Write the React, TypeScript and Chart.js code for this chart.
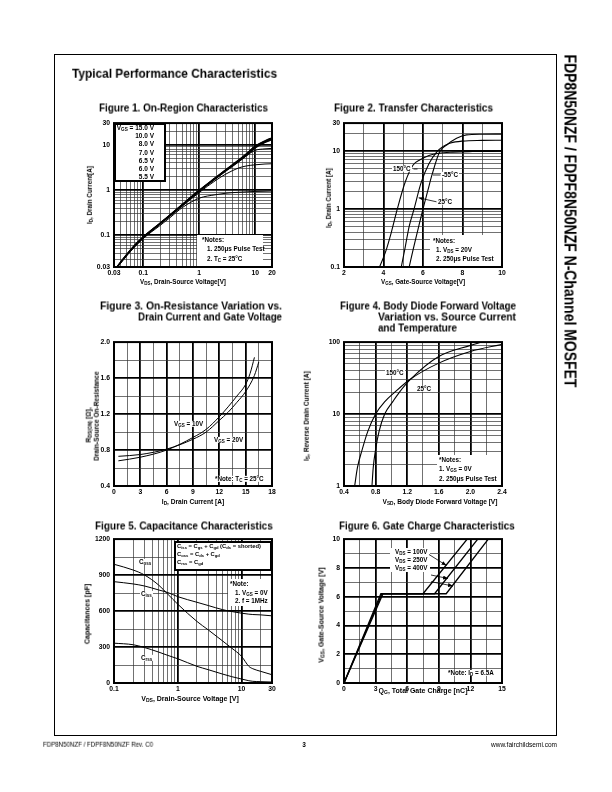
import React, { useEffect, useRef } from 'react';
import { Chart, registerables } from 'chart.js';
Chart.register(...registerables);

const FONT = '"Liberation Sans", Arial, Helvetica, sans-serif';

// ---------- tick helpers (grid positions only) ----------
const logTicks = (min: number, max: number): number[] => {
  const out: number[] = [];
  for (let e = Math.floor(Math.log10(min)); e <= Math.ceil(Math.log10(max)); e++) {
    for (let k = 1; k <= 9; k++) {
      const v = +(k * Math.pow(10, e)).toPrecision(6);
      if (v >= min * 0.999999 && v <= max * 1.000001) out.push(v);
    }
  }
  return out;
};
const stepTicks = (min: number, max: number, step: number): number[] => {
  const out: number[] = [];
  for (let i = 0; min + i * step <= max + 1e-9; i++) out.push(+(min + i * step).toFixed(6));
  return out;
};

// ---------- Figure 1: On-Region Characteristics ----------
const fig1Vds = [0.034, 0.05, 0.07, 0.1, 0.2, 0.3, 0.5, 1, 2, 3, 5, 7, 10, 15, 20];
const fig1Id150 = [0.02, 0.037, 0.06, 0.092, 0.185, 0.28, 0.48, 0.98, 1.9, 2.8, 4.5, 6.3, 9.3, 12.2, 14.2];
const fig1Id100 = [0.02, 0.037, 0.06, 0.092, 0.185, 0.28, 0.48, 0.98, 1.9, 2.8, 4.45, 6.2, 9.1, 11.9, 13.9];
const fig1Id80 = [0.02, 0.036, 0.059, 0.09, 0.182, 0.275, 0.47, 0.96, 1.87, 2.75, 4.35, 6.0, 8.8, 11.5, 13.4];
const fig1Id70 = [0.02, 0.036, 0.058, 0.089, 0.18, 0.27, 0.46, 0.95, 1.84, 2.7, 4.25, 5.8, 8.5, 11.2, 13.0];
const fig1Id65 = [0.02, 0.036, 0.058, 0.089, 0.18, 0.27, 0.46, 0.93, 1.78, 2.6, 4.1, 5.7, 7.5, 8.1, 8.3];
const fig1Id60 = [0.02, 0.036, 0.058, 0.088, 0.178, 0.265, 0.44, 0.88, 1.65, 2.25, 3.05, 3.4, 3.6, 3.75, 3.8];
const fig1Id55 = [0.02, 0.035, 0.055, 0.085, 0.165, 0.245, 0.41, 0.66, 0.79, 0.85, 0.89, 0.91, 0.93, 0.94, 0.95];
const fig1XLabels: [number, string][] = [[0.03, '0.03'], [0.1, '0.1'], [1, '1'], [10, '10'], [20, '20']];
const fig1YLabels: [number, string][] = [[0.02, '0.03'], [0.1, '0.1'], [1, '1'], [10, '10'], [30, '30']];
const fig1Legend = ['10.0 V', '8.0 V', '7.0 V', '6.5 V', '6.0 V', '5.5 V'];

// ---------- Figure 2: Transfer Characteristics ----------
const fig2Vgs150 = [3.8, 4.1, 4.4, 4.7, 5.1, 5.5, 5.85, 6.3, 6.8, 7.5, 8.5, 10];
const fig2Id150 = [0.1, 0.18, 0.4, 1.0, 2.9, 5.7, 7.0, 8.3, 9.1, 9.5, 9.7, 9.8];
const fig2Vgs25 = [4.9, 5.1, 5.3, 5.55, 5.9, 6.3, 6.7, 7.0, 7.4, 8.0, 9.0, 10];
const fig2Id25 = [0.1, 0.22, 0.5, 1.0, 2.8, 6.0, 9.6, 11.8, 13.6, 14.7, 15.1, 15.2];
const fig2VgsM55 = [5.3, 5.5, 5.75, 6.0, 6.25, 6.45, 6.85, 7.2, 7.7, 8.2, 9.0, 10];
const fig2IdM55 = [0.1, 0.2, 0.45, 1.0, 2.1, 3.8, 9.7, 12.6, 16.4, 18.8, 19.3, 19.4];
const fig2XLabels: [number, string][] = [[2, '2'], [4, '4'], [6, '6'], [8, '8'], [10, '10']];
const fig2YLabels: [number, string][] = [[0.1, '0.1'], [1, '1'], [10, '10'], [30, '30']];

// ---------- Figure 3: On-Resistance ----------
const fig3Id10 = [0.5, 3, 6, 9, 10.5, 12, 13, 14, 15, 15.5, 16];
const fig3R10 = [0.68, 0.72, 0.8, 0.94, 1.03, 1.17, 1.28, 1.4, 1.53, 1.65, 1.83];
const fig3Id20 = [0.5, 3, 6, 9, 10.5, 12, 13, 14, 15, 16, 16.5];
const fig3R20 = [0.73, 0.75, 0.81, 0.92, 1.0, 1.13, 1.22, 1.33, 1.45, 1.63, 1.78];
const fig3XLabels: [number, string][] = [[0, '0'], [3, '3'], [6, '6'], [9, '9'], [12, '12'], [15, '15'], [18, '18']];
const fig3YLabels: [number, string][] = [[0.4, '0.4'], [0.8, '0.8'], [1.2, '1.2'], [1.6, '1.6'], [2.0, '2.0']];

// ---------- Figure 4: Body Diode ----------
const fig4Vsd150 = [0.535, 0.57, 0.63, 0.7, 0.8, 0.92, 1.04, 1.23, 1.6, 2.0, 2.4];
const fig4Is150 = [1, 1.8, 3.2, 5.7, 10, 15, 20, 30, 51, 74, 93];
const fig4Vsd25 = [0.754, 0.77, 0.8, 0.843, 0.915, 1.02, 1.1, 1.25, 1.6, 2.0, 2.14];
const fig4Is25 = [1, 1.8, 3.2, 5.7, 10, 15, 20, 31, 63, 90, 100];
const fig4XLabels: [number, string][] = [[0.4, '0.4'], [0.8, '0.8'], [1.2, '1.2'], [1.6, '1.6'], [2.0, '2.0'], [2.4, '2.4']];
const fig4YLabels: [number, string][] = [[1, '1'], [10, '10'], [100, '100']];

// ---------- Figure 5: Capacitance ----------
const fig5Vds = [0.1, 0.2, 0.3, 0.5, 0.7, 1, 2, 3, 5, 7, 10, 13, 15, 20, 30];
const fig5Ciss = [845, 826, 809, 776, 754, 720, 673, 646, 612, 596, 582, 574, 571, 568, 560];
const fig5Coss = [990, 942, 901, 817, 740, 657, 513, 443, 352, 291, 222, 139, 119, 97, 69];
const fig5Crss = [332, 319, 296, 258, 230, 202, 139, 111, 75, 53, 33, 19, 14, 11, 8];
const fig5XLabels: [number, string][] = [[0.1, '0.1'], [1, '1'], [10, '10'], [30, '30']];
const fig5YLabels: [number, string][] = [[0, '0'], [300, '300'], [600, '600'], [900, '900'], [1200, '1200']];

// ---------- Figure 6: Gate Charge ----------
const fig6Q100 = [0, 3.5, 7.5, 11.7];
const fig6V100 = [0, 6.2, 6.2, 10];
const fig6Q250 = [0, 3.6, 8.6, 12.7];
const fig6V250 = [0, 6.2, 6.2, 10];
const fig6Q400 = [0, 3.7, 9.7, 13.7];
const fig6V400 = [0, 6.2, 6.2, 10];
const fig6XLabels: [number, string][] = [[0, '0'], [3, '3'], [6, '6'], [9, '9'], [12, '12'], [15, '15']];
const fig6YLabels: [number, string][] = [[0, '0'], [2, '2'], [4, '4'], [6, '6'], [8, '8'], [10, '10']];

// ---------- chart machinery ----------
type Series = { xs: number[]; ys: number[]; width: number; smooth?: boolean };
type AxisSpec = { type: 'linear' | 'logarithmic'; min: number; max: number; ticks: number[]; labels: [number, string][]; thick: number[] };
type ChartSpec = { left: number; top: number; w: number; h: number; x: AxisSpec; y: AxisSpec; series: Series[] };

const AW = 34, AH = 14, PT = 8, PR = 14;
const near = (a: number, b: number) => Math.abs(a - b) <= 1e-9 + Math.abs(b) * 1e-6;

const framePlugin = {
  id: 'frame',
  afterDatasetsDraw(chart: any) {
    const { ctx, chartArea: a } = chart;
    ctx.save();
    ctx.strokeStyle = '#000';
    ctx.lineWidth = 2;
    ctx.strokeRect(a.left, a.top, a.right - a.left, a.bottom - a.top);
    ctx.restore();
  },
};

function axisOptions(a: AxisSpec, horizontal: boolean) {
  const isThick = (v: number) => a.thick.some((t) => near(v, t));
  return {
    type: a.type,
    min: a.min,
    max: a.max,
    afterBuildTicks: (s: any) => {
      s.ticks = a.ticks.map((v) => ({ value: v }));
    },
    afterFit: (s: any) => {
      if (horizontal) s.height = AH;
      else s.width = AW;
    },
    ticks: {
      autoSkip: false,
      maxRotation: 0,
      minRotation: 0,
      padding: horizontal ? 2 : 4,
      color: '#000',
      font: { family: FONT, size: 6.8, weight: 'bold' },
      callback: (v: number) => {
        const f = a.labels.find((l) => near(v, l[0]));
        return f ? f[1] : '';
      },
    },
    grid: {
      drawTicks: false,
      color: (ctx: any) => (ctx.tick && isThick(ctx.tick.value) ? '#000' : '#333'),
      lineWidth: (ctx: any) => (ctx.tick && isThick(ctx.tick.value) ? 1.8 : 0.7),
    },
    border: { display: false },
  };
}

function PlotChart({ spec }: { spec: ChartSpec }) {
  const ref = useRef<HTMLCanvasElement>(null);
  useEffect(() => {
    const c = ref.current;
    if (!c) return;
    const chart = new Chart(c, {
      type: 'scatter',
      data: {
        datasets: spec.series.map((s) => ({
          data: s.xs.map((x, i) => ({ x, y: s.ys[i] })),
          showLine: true,
          borderColor: '#000',
          backgroundColor: 'transparent',
          borderWidth: s.width,
          pointRadius: 0,
          pointHoverRadius: 0,
          cubicInterpolationMode: s.smooth === false ? 'default' : 'monotone',
          tension: 0,
          fill: false,
        })),
      },
      options: {
        responsive: false,
        animation: false,
        events: [],
        layout: { padding: { top: PT, right: PR, left: 0, bottom: 0 } },
        plugins: { legend: { display: false }, tooltip: { enabled: false } },
        scales: { x: axisOptions(spec.x, true), y: axisOptions(spec.y, false) },
      } as any,
      plugins: [framePlugin],
    } as any);
    return () => chart.destroy();
  }, [spec]);
  return (
    <canvas
      ref={ref}
      width={AW + spec.w + PR}
      height={PT + spec.h + AH}
      style={{ position: 'absolute', left: spec.left - AW, top: spec.top - PT, display: 'block' }}
    />
  );
}

const fig1Spec: ChartSpec = {
  left: 114, top: 123, w: 158, h: 144,
  x: { type: 'logarithmic', min: 0.03, max: 20, ticks: logTicks(0.03, 20), labels: fig1XLabels, thick: [0.1, 1, 10] },
  y: { type: 'logarithmic', min: 0.02, max: 30, ticks: logTicks(0.02, 30), labels: fig1YLabels, thick: [0.1, 1, 10] },
  series: [
    { xs: fig1Vds, ys: fig1Id150, width: 1.4 },
    { xs: fig1Vds, ys: fig1Id100, width: 1.4 },
    { xs: fig1Vds, ys: fig1Id80, width: 1.4 },
    { xs: fig1Vds, ys: fig1Id70, width: 1.4 },
    { xs: fig1Vds, ys: fig1Id65, width: 1 },
    { xs: fig1Vds, ys: fig1Id60, width: 1 },
    { xs: fig1Vds, ys: fig1Id55, width: 1 },
  ],
};
const fig2Spec: ChartSpec = {
  left: 344, top: 123, w: 158, h: 144,
  x: { type: 'linear', min: 2, max: 10, ticks: stepTicks(2, 10, 1), labels: fig2XLabels, thick: [4, 6, 8] },
  y: { type: 'logarithmic', min: 0.1, max: 30, ticks: logTicks(0.1, 30), labels: fig2YLabels, thick: [1, 10] },
  series: [
    { xs: fig2Vgs150, ys: fig2Id150, width: 1.1 },
    { xs: fig2Vgs25, ys: fig2Id25, width: 1.1 },
    { xs: fig2VgsM55, ys: fig2IdM55, width: 1.1 },
  ],
};
const fig3Spec: ChartSpec = {
  left: 114, top: 342, w: 158, h: 144,
  x: { type: 'linear', min: 0, max: 18, ticks: stepTicks(0, 18, 1.5), labels: fig3XLabels, thick: [3, 6, 9, 12, 15] },
  y: { type: 'linear', min: 0.4, max: 2.0, ticks: stepTicks(0.4, 2.0, 0.2), labels: fig3YLabels, thick: [0.8, 1.2, 1.6] },
  series: [
    { xs: fig3Id10, ys: fig3R10, width: 1 },
    { xs: fig3Id20, ys: fig3R20, width: 1 },
  ],
};
const fig4Spec: ChartSpec = {
  left: 344, top: 342, w: 158, h: 144,
  x: { type: 'linear', min: 0.4, max: 2.4, ticks: stepTicks(0.4, 2.4, 0.2), labels: fig4XLabels, thick: [0.8, 1.2, 1.6, 2.0] },
  y: { type: 'logarithmic', min: 1, max: 100, ticks: logTicks(1, 100), labels: fig4YLabels, thick: [10] },
  series: [
    { xs: fig4Vsd150, ys: fig4Is150, width: 1.1 },
    { xs: fig4Vsd25, ys: fig4Is25, width: 1.1 },
  ],
};
const fig5Spec: ChartSpec = {
  left: 114, top: 539, w: 158, h: 144,
  x: { type: 'logarithmic', min: 0.1, max: 30, ticks: logTicks(0.1, 30), labels: fig5XLabels, thick: [1, 10] },
  y: { type: 'linear', min: 0, max: 1200, ticks: stepTicks(0, 1200, 150), labels: fig5YLabels, thick: [300, 600, 900] },
  series: [
    { xs: fig5Vds, ys: fig5Ciss, width: 1 },
    { xs: fig5Vds, ys: fig5Coss, width: 1 },
    { xs: fig5Vds, ys: fig5Crss, width: 1 },
  ],
};
const fig6Spec: ChartSpec = {
  left: 344, top: 539, w: 158, h: 144,
  x: { type: 'linear', min: 0, max: 15, ticks: stepTicks(0, 15, 1.5), labels: fig6XLabels, thick: [3, 6, 9, 12] },
  y: { type: 'linear', min: 0, max: 10, ticks: stepTicks(0, 10, 1), labels: fig6YLabels, thick: [2, 4, 6, 8] },
  series: [
    { xs: fig6Q100, ys: fig6V100, width: 1.3, smooth: false },
    { xs: fig6Q250, ys: fig6V250, width: 1.3, smooth: false },
    { xs: fig6Q400, ys: fig6V400, width: 1.3, smooth: false },
  ],
};

// ---------- text helpers ----------
let mctx: CanvasRenderingContext2D | null = null;
function fitScale(text: string, font: string, w: number) {
  if (!mctx && typeof document !== 'undefined') mctx = document.createElement('canvas').getContext('2d');
  if (!mctx) return 1;
  mctx.font = font;
  const m = mctx.measureText(text).width;
  return m > 0 ? w / m : 1;
}

type LabelProps = {
  x: number; y: number; size?: number; bold?: boolean; align?: 'left' | 'center' | 'right';
  rot?: number; sx?: number; fit?: number; text?: string; bg?: boolean; children?: React.ReactNode;
};
function Label({ x, y, size = 6.5, bold = true, align = 'left', rot = 0, sx = 1, fit, text, bg, children }: LabelProps) {
  const font = `${bold ? 'bold ' : ''}${size}px ${FONT}`;
  const s = fit && text ? fitScale(text, font, fit) : sx;
  let transform: string;
  let origin: string;
  if (rot) {
    transform = `translate(-50%,-50%) rotate(${rot}deg) scaleX(${s})`;
    origin = '50% 50%';
  } else {
    const tx = align === 'left' ? '0' : align === 'right' ? '-100%' : '-50%';
    transform = `translate(${tx},-50%) scaleX(${s})`;
    origin = align === 'left' ? '0 50%' : align === 'right' ? '100% 50%' : '50% 50%';
  }
  return (
    <div
      style={{
        position: 'absolute', left: x, top: y, fontFamily: FONT, fontSize: size, fontWeight: bold ? 700 : 400,
        lineHeight: 1, whiteSpace: 'nowrap', color: '#000', transform, transformOrigin: origin,
        background: bg ? '#fff' : undefined, padding: bg ? '0 1px' : undefined, willChange: 'transform',
      }}
    >
      {children ?? text}
    </div>
  );
}
const Sub = ({ children }: { children: React.ReactNode }) => (
  <span style={{ fontSize: '0.72em', verticalAlign: '-0.28em', lineHeight: 0 }}>{children}</span>
);
const Box = ({ l, t, w, h, border }: { l: number; t: number; w: number; h: number; border?: boolean }) => (
  <div
    style={{
      position: 'absolute', left: l, top: t, width: w, height: h, background: '#fff',
      border: border ? '2px solid #000' : undefined, boxSizing: 'border-box',
    }}
  />
);

export default function App() {
  return (
    <div style={{ position: 'absolute', left: 0, top: 0, width: 612, height: 792, background: '#fff', overflow: 'hidden' }}>
      {/* page frame */}
      <div style={{ position: 'absolute', left: 54, top: 54, width: 503, height: 682, border: '1px solid #000', boxSizing: 'border-box' }} />

      <PlotChart spec={fig1Spec} />
      <PlotChart spec={fig2Spec} />
      <PlotChart spec={fig3Spec} />
      <PlotChart spec={fig4Spec} />
      <PlotChart spec={fig5Spec} />
      <PlotChart spec={fig6Spec} />

      {/* header / side title / footer */}
      <Label x={72.3} y={74} size={12.5} text="Typical Performance Characteristics" fit={205} />
      <Label x={569.5} y={220.5} size={17} rot={90} align="center" text="FDP8N50NZF / FDPF8N50NZF N-Channel MOSFET" fit={333} />
      <Label x={42.5} y={744.5} size={6.5} bold={false} text="FDP8N50NZF / FDPF8N50NZF Rev. C0" fit={110} />
      <Label x={304} y={745} size={6.5} align="center" text="3" />
      <Label x={557} y={744.5} size={6.5} bold={false} align="right" text="www.fairchildsemi.com" fit={66} />

      {/* Figure titles */}
      <Label x={99.3} y={108.3} size={11} text="Figure 1. On-Region Characteristics" fit={169} />
      <Label x={334.3} y={108.3} size={11} text="Figure 2. Transfer Characteristics" fit={159} />
      <Label x={100} y={305.5} size={11} text="Figure 3. On-Resistance Variation vs." fit={182} />
      <Label x={137.7} y={316.7} size={11} text="Drain Current and Gate Voltage" fit={144} />
      <Label x={340} y={305.5} size={11} text="Figure 4. Body Diode Forward Voltage" fit={176} />
      <Label x={377.7} y={316.7} size={11} text="Variation vs. Source Current" fit={138} />
      <Label x={377.7} y={327.5} size={11} text="and Temperature" fit={79} />
      <Label x={95} y={525.7} size={11} text="Figure 5. Capacitance Characteristics" fit={177.7} />
      <Label x={339.3} y={525.7} size={11} text="Figure 6. Gate Charge Characteristics" fit={175.7} />

      {/* Figure 1 annotations */}
      <Box l={114} t={123} w={52} h={59} border />
      <Label x={154.3} y={127.7} align="right">V<Sub>GS</Sub> = 15.0 V</Label>
      {fig1Legend.map((t, i) => (
        <Label key={t} x={154.3} y={136.2 + i * 8.2} align="right" text={t} />
      ))}
      <Box l={197} t={235} w={66} h={31} />
      <Label x={201.7} y={240.3} size={6.3} text="*Notes:" />
      <Label x={206.7} y={249.3} size={6.3} text="1. 250μs Pulse Test" />
      <Label x={206.7} y={258.5} size={6.3}>2. T<Sub>C</Sub> = 25°C</Label>
      <Label x={183.3} y={282} size={6.3} align="center">V<Sub>DS</Sub>, Drain-Source Voltage[V]</Label>
      <Label x={90} y={195} size={6.3} rot={-90} align="center">I<Sub>D</Sub>, Drain Current[A]</Label>

      {/* Figure 2 annotations */}
      <Label x={391.5} y={169} size={6.3} bg text="150°C" />
      <Label x={441} y={175} size={6.3} bg text="-55°C" />
      <Label x={437} y={202.3} size={6.3} bg text="25°C" />
      <Box l={430} t={235} w={71} h={31} />
      <Label x={432.7} y={241} size={6.3} text="*Notes:" />
      <Label x={436} y={250} size={6.3}>1. V<Sub>DS</Sub> = 20V</Label>
      <Label x={436} y={259.2} size={6.3} text="2. 250μs Pulse Test" />
      <Label x={423.3} y={282} size={6.3} align="center">V<Sub>GS</Sub>, Gate-Source Voltage[V]</Label>
      <Label x={329.3} y={198} size={6.3} rot={-90} align="center">I<Sub>D</Sub>, Drain Current [A]</Label>

      {/* Figure 3 annotations */}
      <Label x={172.7} y={424} size={6.3} bg>V<Sub>GS</Sub> = 10V</Label>
      <Label x={212.7} y={440} size={6.3} bg>V<Sub>GS</Sub> = 20V</Label>
      <Label x={214} y={479.3} size={6.3} bg>*Note: T<Sub>C</Sub> = 25°C</Label>
      <Label x={193.3} y={501.7} size={6.6} align="center">I<Sub>D</Sub>, Drain Current [A]</Label>
      <Label x={88.5} y={425} size={6.6} rot={-90} align="center">R<Sub>DS(ON)</Sub> [Ω],</Label>
      <Label x={96.5} y={416} size={6.6} rot={-90} align="center" text="Drain-Source On-Resistance" />

      {/* Figure 4 annotations */}
      <Label x={385} y={373.3} size={6.3} bg text="150°C" />
      <Label x={416} y={389} size={6.3} bg text="25°C" />
      <Box l={437} t={455} w={64} h={30} />
      <Label x={439.3} y={460} size={6.3} text="*Notes:" />
      <Label x={439.3} y={469.3} size={6.3}>1. V<Sub>GS</Sub> = 0V</Label>
      <Label x={439.3} y={479} size={6.3} text="2. 250μs Pulse Test" />
      <Label x={440} y={501.7} size={6.6} align="center">V<Sub>SD</Sub>, Body Diode Forward Voltage [V]</Label>
      <Label x={307} y={416} size={6.6} rot={-90} align="center">I<Sub>S</Sub>, Reverse Drain Current [A]</Label>

      {/* Figure 5 annotations */}
      <Box l={174.3} t={540.5} w={98} h={30} border />
      <Label x={176.7} y={546.7} size={5.8}>C<Sub>iss</Sub> = C<Sub>gs</Sub> + C<Sub>gd</Sub> (C<Sub>ds</Sub> = shorted)</Label>
      <Label x={176.7} y={555} size={5.8}>C<Sub>oss</Sub> = C<Sub>ds</Sub> + C<Sub>gd</Sub></Label>
      <Label x={176.7} y={563.3} size={5.8}>C<Sub>rss</Sub> = C<Sub>gd</Sub></Label>
      <Box l={228} t={579} w={43} h={27} />
      <Label x={230} y={584.3} size={6.3} text="*Note:" />
      <Label x={235} y={593.3} size={6.3}>1. V<Sub>GS</Sub> = 0V</Label>
      <Label x={235} y={600.9} size={6.3} text="2. f = 1MHz" />
      <Label x={138.3} y={561.7} size={6.3} bg>C<Sub>oss</Sub></Label>
      <Label x={140} y={594} size={6.3} bg>C<Sub>iss</Sub></Label>
      <Label x={140} y={658.3} size={6.3} bg>C<Sub>rss</Sub></Label>
      <Label x={190} y={698.3} size={7} align="center">V<Sub>DS</Sub>, Drain-Source Voltage [V]</Label>
      <Label x={86.7} y={614} size={7} rot={-90} align="center" text="Capacitances [pF]" />

      {/* Figure 6 annotations */}
      <Box l={390} t={548} w={40} h={24} />
      <Label x={395} y={552.3} size={6.3}>V<Sub>DS</Sub> = 100V</Label>
      <Label x={395} y={560.2} size={6.3}>V<Sub>DS</Sub> = 250V</Label>
      <Label x={395} y={568.3} size={6.3}>V<Sub>DS</Sub> = 400V</Label>
      <Label x={446.7} y={672.7} size={6.3} bg>*Note: I<Sub>D</Sub> = 6.5A</Label>
      <Label x={423} y={690} size={7} align="center">Q<Sub>G</Sub>, Total Gate Charge [nC]</Label>
      <Label x={320.7} y={615} size={7} rot={-90} align="center">V<Sub>GS</Sub>, Gate-Source Voltage [V]</Label>

      {/* leader lines and arrows */}
      <svg width={612} height={792} style={{ position: 'absolute', left: 0, top: 0, pointerEvents: 'none' }}>
        <defs>
          <marker id="ah" markerWidth="5" markerHeight="4" refX="5" refY="2" orient="auto" markerUnits="userSpaceOnUse">
            <path d="M0,0 L5,2 L0,4 z" fill="#000" />
          </marker>
        </defs>
        <line x1={413.5} y1={169} x2={417.5} y2={169} stroke="#000" strokeWidth={0.8} />
        <line x1={433} y1={175} x2={440.5} y2={175} stroke="#000" strokeWidth={0.8} />
        <line x1={436.5} y1={201.8} x2={418.6} y2={197.8} stroke="#000" strokeWidth={0.8} markerEnd="url(#ah)" />
        <line x1={429} y1={554.5} x2={446.5} y2={565.5} stroke="#000" strokeWidth={0.8} markerEnd="url(#ah)" />
        <line x1={431} y1={575} x2={448} y2={578.5} stroke="#000" strokeWidth={0.8} markerEnd="url(#ah)" />
        <line x1={431} y1={581.7} x2={453} y2={586} stroke="#000" strokeWidth={0.8} markerEnd="url(#ah)" />
      </svg>
    </div>
  );
}
